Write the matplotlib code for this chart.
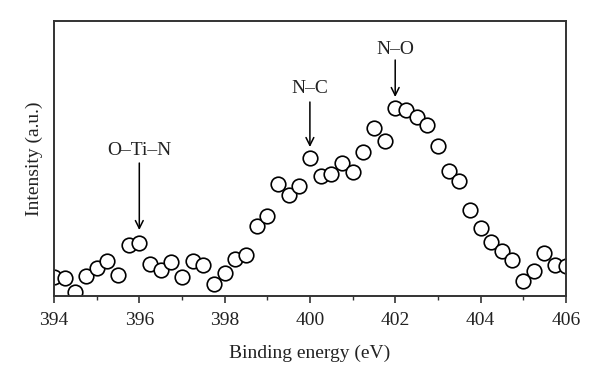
import matplotlib.pyplot as plt
from matplotlib.ticker import MultipleLocator, NullLocator

# binding energy grid (eV), 0.25 eV step
energy = [394.0 + 0.25 * i for i in range(49)]

# intensity (a.u.)
intensity = [19, 18, 4, 20, 28, 35, 21, 51, 53, 32, 26, 34,
             19, 35, 31, 12, 23, 37, 41, 70, 80, 112, 101, 110,
             138, 120, 122, 133, 124, 144, 168, 155, 188, 186, 179, 171,
             150, 125, 115, 86, 68, 54, 45, 36, 15, 25, 43, 31, 30]

# peak labels: (text, energy of arrow, arrow tip, arrow tail, text y)
peak_labels = ["O\u2013Ti\u2013N", "N\u2013C", "N\u2013O"]
peak_energy = [396.0, 400.0, 402.0]
arrow_tip = [66, 149, 199]
arrow_tail = [133, 194, 236]
text_y = [146, 208, 247]

plt.rcParams['font.family'] = ['Liberation Serif', 'DejaVu Serif']

fig = plt.figure(figsize=(6.0, 3.86), dpi=100)
ax = fig.add_axes([0.09, 0.233, 0.853, 0.7126])

ax.plot(energy, intensity, 'o', ms=10.5, mfc='white', mec='black', mew=1.2)

for lab, e, tip, tail, ty in zip(peak_labels, peak_energy, arrow_tip, arrow_tail, text_y):
    ax.annotate('', xy=(e, tip), xytext=(e, tail),
                arrowprops=dict(arrowstyle='->', color='black', lw=1.1,
                                shrinkA=0, shrinkB=0, mutation_scale=14))
    ax.text(e, ty, lab, ha='center', va='center', fontsize=14, color='#222222')

ax.set_xlim(394, 406)
ax.set_ylim(0, 275)
ax.xaxis.set_major_locator(MultipleLocator(2))
ax.xaxis.set_minor_locator(MultipleLocator(1))
ax.yaxis.set_major_locator(NullLocator())
ax.tick_params(axis='x', which='major', direction='out', length=5, width=1.2,
               pad=6.5, labelsize=14, colors='#333333', labelcolor='#222222')
ax.tick_params(axis='x', which='minor', direction='out', length=3, width=1.0,
               colors='#333333')
for s in ax.spines.values():
    s.set_linewidth(1.4)
    s.set_color('#333333')

ax.set_xlabel('Binding energy (eV)', fontsize=14, color='#222222', labelpad=11)
ax.set_ylabel('Intensity (a.u.)', fontsize=14, color='#222222', labelpad=8)

fig.savefig('out.png', dpi=100)
